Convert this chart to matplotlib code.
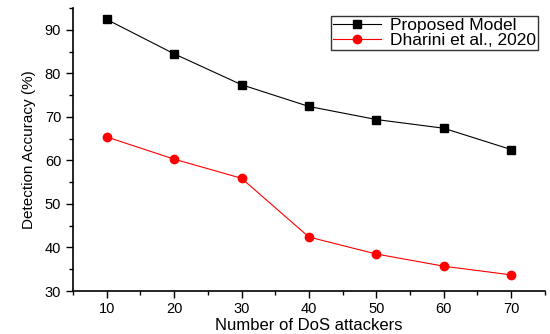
import matplotlib.pyplot as plt
from matplotlib.ticker import MultipleLocator

plt.rcParams['font.family'] = ['Liberation Sans', 'DejaVu Sans']

# Donnees
attackers = [10, 20, 30, 40, 50, 60, 70]
proposed = [92.4, 84.5, 77.4, 72.4, 69.4, 67.4, 62.5]
dharini = [65.4, 60.3, 55.9, 42.4, 38.5, 35.7, 33.7]

fig = plt.figure(figsize=(5.5, 3.34), dpi=100)
ax = fig.add_axes([0.1327, 0.1287, 0.858, 0.847])

ax.plot(attackers, proposed, color='black', marker='s', markersize=6, linewidth=0.8,
        label='Proposed Model')
ax.plot(attackers, dharini, color='red', marker='o', markersize=6, linewidth=0.8,
        label='Dharini et al., 2020')

ax.set_xlim(5, 75)
ax.set_ylim(30, 95)
ax.xaxis.set_major_locator(MultipleLocator(10))
ax.xaxis.set_minor_locator(MultipleLocator(5))
ax.yaxis.set_major_locator(MultipleLocator(10))
ax.yaxis.set_minor_locator(MultipleLocator(5))
ax.tick_params(which='major', direction='out', length=5, width=1, labelsize=10.5)
ax.tick_params(axis='x', which='major', pad=3)
ax.tick_params(which='minor', direction='out', length=3, width=1)

ax.spines['top'].set_visible(False)
ax.spines['right'].set_visible(False)
ax.spines['left'].set_linewidth(1.2)
ax.spines['bottom'].set_linewidth(1.2)

ax.set_xlabel('Number of DoS attackers', fontsize=12, labelpad=1)
ax.set_ylabel('Detection Accuracy (%)', fontsize=11, labelpad=6)

leg = ax.legend(loc='upper left', bbox_to_anchor=(0.602, 0.952),
                bbox_transform=fig.transFigure, fontsize=12.5, frameon=True,
                fancybox=False, edgecolor='black', borderpad=0.1,
                labelspacing=0.0, handlelength=2.8, handletextpad=0.5,
                borderaxespad=0)
leg.get_frame().set_linewidth(1)

plt.savefig('out.png', dpi=100)
plt.close()
